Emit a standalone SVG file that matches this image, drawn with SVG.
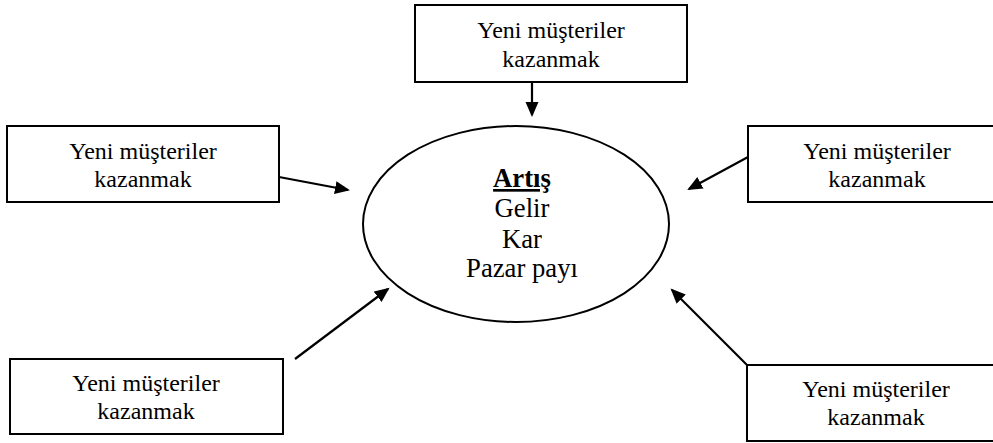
<svg xmlns="http://www.w3.org/2000/svg" width="993" height="443" viewBox="0 0 993 443">
  <style>
    .box { fill: #ffffff; stroke: #000000; stroke-width: 2; }
    .t { font-family: "Liberation Serif", "Times New Roman", serif; font-size: 24px; fill: #000000; text-anchor: middle; }
    .e { font-family: "Liberation Serif", "Times New Roman", serif; font-size: 26.7px; fill: #000000; text-anchor: middle; }
    .c { stroke: #000000; stroke-width: 2.2; fill: none; marker-end: url(#arr); }
  </style>
  <defs>
    <marker id="arr" markerUnits="userSpaceOnUse" markerWidth="16" markerHeight="14" refX="13" refY="6.5" orient="auto">
      <path d="M0,0 L15,6.5 L0,13 z" fill="#000000"/>
    </marker>
  </defs>
  <rect width="993" height="443" fill="#ffffff"/>
  <g id="center">
    <ellipse cx="516" cy="224" rx="153" ry="98" fill="#ffffff" stroke="#000000" stroke-width="2"/>
    <text class="e" x="522" y="187" font-weight="bold" text-decoration="underline">Artış</text>
    <text class="e" x="522" y="217">Gelir</text>
    <text class="e" x="522" y="248">Kar</text>
    <text class="e" x="522" y="277">Pazar payı</text>
  </g>
  <g id="top">
    <rect class="box" x="415" y="5" width="272" height="77"/>
    <text class="t" x="551" y="38">Yeni müşteriler</text>
    <text class="t" x="551" y="67">kazanmak</text>
  </g>
  <g id="left">
    <rect class="box" x="7" y="126" width="272" height="76"/>
    <text class="t" x="143" y="159">Yeni müşteriler</text>
    <text class="t" x="143" y="187">kazanmak</text>
  </g>
  <g id="right">
    <rect class="box" x="748" y="126" width="272" height="76"/>
    <text class="t" x="877" y="159">Yeni müşteriler</text>
    <text class="t" x="877" y="187">kazanmak</text>
  </g>
  <g id="bottom-left">
    <rect class="box" x="10" y="359" width="273" height="75"/>
    <text class="t" x="146" y="391">Yeni müşteriler</text>
    <text class="t" x="146" y="419">kazanmak</text>
  </g>
  <g id="bottom-right">
    <rect class="box" x="747" y="365" width="272" height="76"/>
    <text class="t" x="876" y="397">Yeni müşteriler</text>
    <text class="t" x="876" y="425">kazanmak</text>
  </g>
  <g id="connectors">
    <line class="c" x1="532" y1="82" x2="532" y2="115"/>
    <line class="c" x1="279" y1="177" x2="348" y2="190"/>
    <line class="c" x1="748" y1="157" x2="689" y2="189"/>
    <line class="c" x1="295" y1="359" x2="388" y2="289"/>
    <line class="c" x1="747" y1="365" x2="672" y2="290"/>
  </g>
</svg>
